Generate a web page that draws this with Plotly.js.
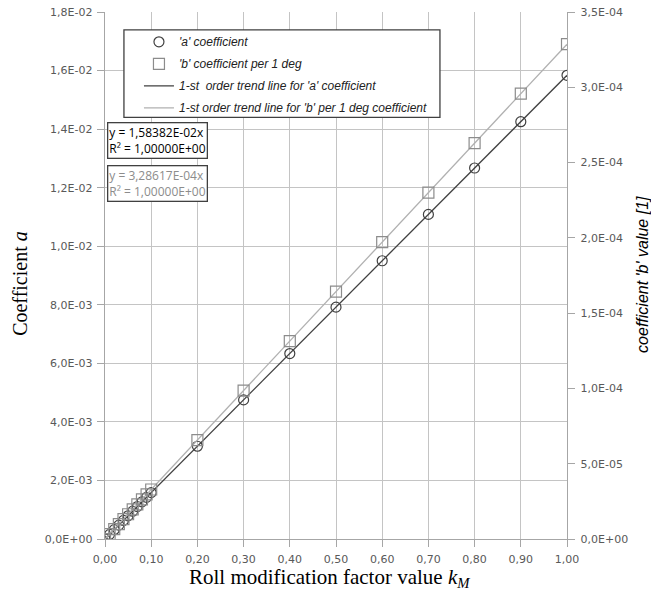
<!DOCTYPE html>
<html>
<head>
<meta charset="utf-8">
<script src="https://cdn.plot.ly/plotly-3.0.1.min.js"></script>
<style>html,body{margin:0;padding:0;background:#fff;}#chart{width:651px;height:603px;}</style>
</head>
<body>
<div id="chart"></div>
<script>
// Data
const kM = [0, 0.01, 0.02, 0.03, 0.04, 0.05, 0.06, 0.07, 0.08, 0.09, 0.10, 0.20, 0.30, 0.40, 0.50, 0.60, 0.70, 0.80, 0.90, 1.00];
const coefA = [0, 0.000158, 0.000317, 0.000475, 0.000634, 0.000792, 0.000950, 0.001109, 0.001267, 0.001425, 0.001584, 0.003168, 0.004751, 0.006335, 0.007919, 0.009503, 0.011087, 0.012671, 0.014254, 0.015838];
const coefB = [0, 3.29e-6, 6.57e-6, 9.86e-6, 1.314e-5, 1.643e-5, 1.972e-5, 2.300e-5, 2.629e-5, 2.958e-5, 3.286e-5, 6.572e-5, 9.859e-5, 1.3145e-4, 1.6431e-4, 1.9717e-4, 2.3003e-4, 2.6289e-4, 2.9576e-4, 3.2862e-4];
// trend line end points
const trendX = [0, 1];
const trendA = [0, 1.58382e-2];
const trendB = [0, 3.28617e-4];
// tick labels
const xTickVals = [0, 0.1, 0.2, 0.3, 0.4, 0.5, 0.6, 0.7, 0.8, 0.9, 1.0];
const xTickText = ["0,00", "0,10", "0,20", "0,30", "0,40", "0,50", "0,60", "0,70", "0,80", "0,90", "1,00"];
const yTickVals = [0, 0.002, 0.004, 0.006, 0.008, 0.010, 0.012, 0.014, 0.016, 0.018];
const yTickText = ["0,0E+00", "2,0E-03", "4,0E-03", "6,0E-03", "8,0E-03", "1,0E-02", "1,2E-02", "1,4E-02", "1,6E-02", "1,8E-02"];
const y2TickVals = [0, 5e-5, 1e-4, 1.5e-4, 2e-4, 2.5e-4, 3e-4, 3.5e-4];
const y2TickText = ["0,0E+00", "5,0E-05", "1,0E-04", "1,5E-04", "2,0E-04", "2,5E-04", "3,0E-04", "3,5E-04"];
const seriesNames = ["'a' coefficient", "'b' coefficient per 1 deg", "1-st  order trend line for 'a' coefficient", "1-st order trend line for 'b' per 1 deg coefficient"];
const eqA = "y = 1,58382E-02x<br>R² = 1,00000E+00";
const eqB = "y = 3,28617E-04x<br>R² = 1,00000E+00";
const xTitle = "Roll modification factor value <i>k<sub>M</sub></i>";
const yTitle = "Coefficient <i>a</i>";
const y2Title = "<i>coefficient 'b' value [1]</i>";

const tickFont = {family: "DejaVu Sans", size: 11, color: "#595959"};
const axisCol = "#a6a6a6";
const gridCol = "#c4c4c4";

const traces = [
  {x: trendX, y: trendA, mode: "lines", name: seriesNames[2], legendgroup: "g3", line: {color: "#404040", width: 1.3}, legendrank: 3},
  {x: trendX, y: trendB, yaxis: "y2", mode: "lines", name: seriesNames[3], legendgroup: "g4", line: {color: "#b0b0b0", width: 1.3}, legendrank: 4},
  {x: kM, y: coefA, mode: "markers", name: seriesNames[0], legendgroup: "g1", marker: {symbol: "circle-open", size: 10, color: "#404040", line: {width: 1.2}}, legendrank: 1},
  {x: kM, y: coefB, yaxis: "y2", mode: "markers", name: seriesNames[1], legendgroup: "g2", marker: {symbol: "square-open", size: 11, color: "#8c8c8c", line: {width: 1.2}}, legendrank: 2}
];

const layout = {
  width: 651, height: 603,
  margin: {l: 105, r: 84, t: 12, b: 64},
  paper_bgcolor: "#fff", plot_bgcolor: "#fff",
  showlegend: true,
  hovermode: false,
  legend: {
    x: 0.0735, y: 0.971, xanchor: "left", yanchor: "top",
    bgcolor: "rgba(0,0,0,0)", borderwidth: 0,
    font: {family: "Liberation Sans Narrow, Liberation Sans, Arial", size: 12, color: "#222", style: "italic"},
    tracegroupgap: 3, itemwidth: 30
  },
  shapes: [
    {type: "rect", xref: "paper", yref: "paper", x0: 0.041, x1: 0.725, y0: 0.8, y1: 0.966,
     line: {color: "#404040", width: 1.3}, fillcolor: "#fff", layer: "above"}
  ],
  xaxis: {
    range: [0, 1], tickvals: xTickVals, ticktext: xTickText, tickfont: tickFont,
    showgrid: true, gridcolor: gridCol, gridwidth: 1, zeroline: false,
    showline: true, linecolor: axisCol, linewidth: 1.3, ticks: "outside", ticklen: 7, tickcolor: axisCol,
    ticklabelstandoff: 2
  },
  yaxis: {
    range: [0, 0.018], tickvals: yTickVals, ticktext: yTickText, tickfont: tickFont,
    showgrid: true, gridcolor: gridCol, gridwidth: 1, zeroline: false,
    showline: true, linecolor: axisCol, linewidth: 1.3, ticks: "outside", ticklen: 7, tickcolor: axisCol,
    ticklabelstandoff: 2
  },
  yaxis2: {
    range: [0, 3.5e-4], overlaying: "y", side: "right", tickvals: y2TickVals, ticktext: y2TickText, tickfont: tickFont,
    showgrid: false, zeroline: false,
    showline: true, linecolor: axisCol, linewidth: 1.3, ticks: "outside", ticklen: 7, tickcolor: axisCol,
    ticklabelstandoff: 3
  },
  annotations: [
    {xref: "paper", yref: "paper", x: 0.004, y: 0.791, xanchor: "left", yanchor: "top", text: eqA, showarrow: false, align: "left",
     font: {family: "Open Sans", size: 12, color: "#000"}, bordercolor: "#404040", borderwidth: 1.3, borderpad: 1, bgcolor: "#fff"},
    {xref: "paper", yref: "paper", x: 0.004, y: 0.7097, xanchor: "left", yanchor: "top", text: eqB, showarrow: false, align: "left",
     font: {family: "Open Sans", size: 12, color: "#8c8c8c"}, bordercolor: "#404040", borderwidth: 1.3, borderpad: 1, bgcolor: "#fff"},
    {xref: "paper", yref: "paper", x: 0.486, y: -0.074, xanchor: "center", yanchor: "middle", text: xTitle, showarrow: false,
     font: {family: "Liberation Serif", size: 21, color: "#000"}},
    {xref: "paper", yref: "paper", x: -0.184, y: 0.486, xanchor: "center", yanchor: "middle", text: yTitle, showarrow: false, textangle: -90,
     font: {family: "Liberation Serif", size: 20, color: "#000"}},
    {xref: "paper", yref: "paper", x: 1.1645, y: 0.503, xanchor: "center", yanchor: "middle", text: y2Title, showarrow: false, textangle: -90,
     font: {family: "Liberation Sans Narrow, Liberation Sans", size: 16, color: "#000"}}
  ]
};

Plotly.newPlot("chart", traces, layout, {displayModeBar: false, staticPlot: true});
</script>
</body>
</html>
